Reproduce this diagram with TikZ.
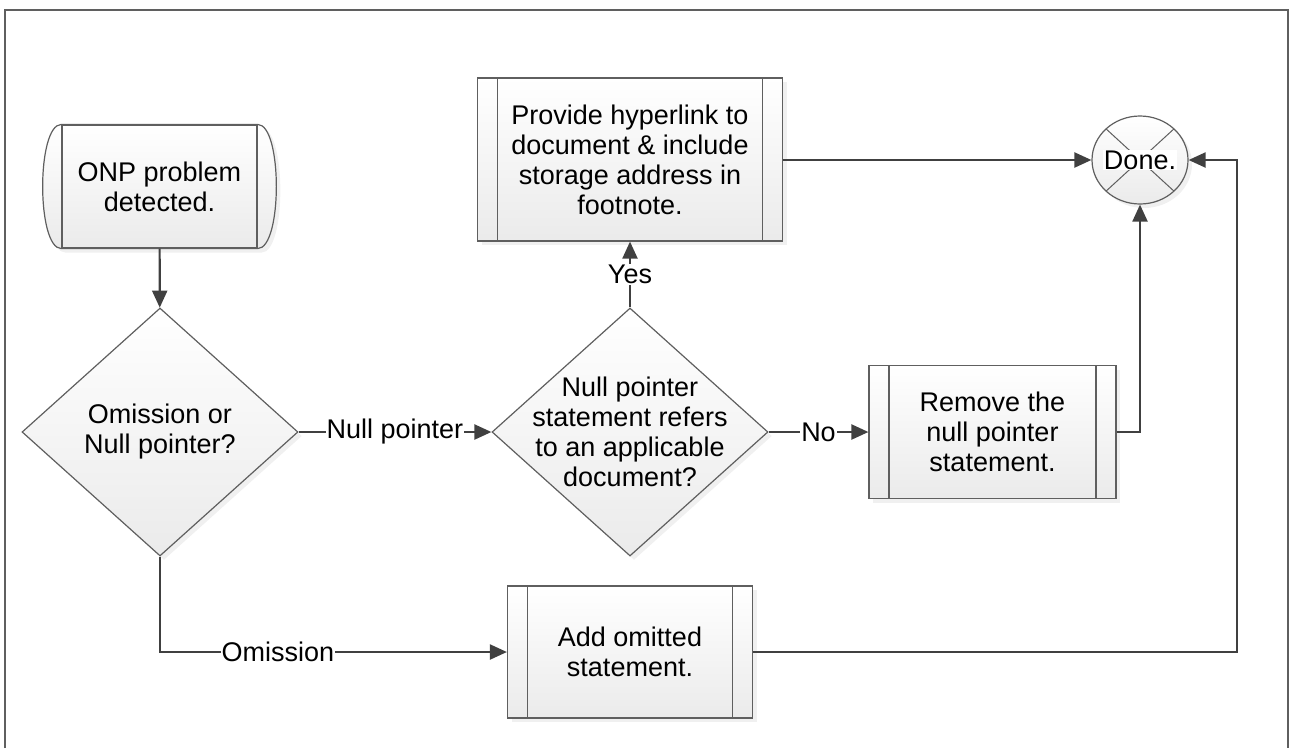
\documentclass[tikz,border=0pt]{standalone}
\usepackage{fontspec}
\setmainfont{Liberation Sans}
\usetikzlibrary{arrows.meta, shapes.geometric, shadows, backgrounds}
\definecolor{linegray}{HTML}{404040}
\definecolor{edgegray}{HTML}{5F5F5F}

\begin{document}
\begin{tikzpicture}[x=1pt, y=-1pt,
        every node/.style={font=\fontsize{27}{30}\selectfont, align=center},
        shapefill/.style={draw=edgegray, line width=1.2pt, top color=white, bottom color=black!8,
            drop shadow={shadow xshift=4pt, shadow yshift=-4pt, opacity=0.12}},
        process/.style={shapefill, rectangle, inner sep=0pt, path picture={
            \draw[edgegray, line width=1.2pt] ([xshift=20pt]path picture bounding box.north west) -- ([xshift=20pt]path picture bounding box.south west);
            \draw[edgegray, line width=1.2pt] ([xshift=-20pt]path picture bounding box.north east) -- ([xshift=-20pt]path picture bounding box.south east);
        }},
        decision/.style={shapefill, diamond, inner sep=0pt, minimum width=276pt, minimum height=248pt},
        flow/.style={draw=linegray, line width=2.2pt, -{Triangle[length=17pt, width=15pt]}},
        lbl/.style={fill=white, inner sep=1pt}
    ]
        \useasboundingbox (0,0) rectangle (1289,748);
        
        % Frame
        \draw[edgegray, line width=2pt] (5,748) -- (5,10) -- (1288,10) -- (1288,748);
        
        % Start
        \node[draw=edgegray, line width=1.2pt, minimum width=195pt, minimum height=123pt, inner sep=0pt] (start) at (159.5,186.5) {ONP problem\\detected.};
        \begin{scope}[on background layer]
            \path[shapefill] (start.north west) .. controls ([xshift=-25pt]start.north west) and ([xshift=-25pt]start.south west) .. (start.south west)
                -- (start.south east) .. controls ([xshift=25pt]start.south east) and ([xshift=25pt]start.north east) .. (start.north east) -- cycle;
        \end{scope}
        
        % Decisions
        \node[decision] (omit) at (160,432) {};
        \node (omittext) at (omit) {Omission or\\Null pointer?};
        \node[decision] (refers) at (630,432) {};
        \node (referstext) at (refers) {Null pointer\\statement refers\\to an applicable\\document?};
        
        % Processes
        \node[process, minimum width=305pt, minimum height=163pt] (link) at (630,159.5) {Provide hyperlink to\\document \& include\\storage address in\\footnote.};
        \node[process, minimum width=247pt, minimum height=133pt] (remove) at (992.5,432) {Remove the\\null pointer\\statement.};
        \node[process, minimum width=245pt, minimum height=132pt] (add) at (630,652) {Add omitted\\statement.};
        
        % End
        \node[shapefill, ellipse, minimum width=96pt, minimum height=88pt, inner sep=0pt, path picture={
            \draw[edgegray, line width=1pt] (path picture bounding box.south west) -- (path picture bounding box.north east)
                (path picture bounding box.north west) -- (path picture bounding box.south east);
        }] (done) at (1140,160) {};
        \node[lbl] (donetext) at (done) {Done.};
        
        % Arrows
        \coordinate (back) at (1237,652);
        \draw[flow] (start) -- (omit);
        \draw[flow] (omit) -- node[lbl] {Null pointer} (refers);
        \draw[flow] (refers) -- node[lbl] {No} (remove);
        \draw[flow] (refers.north) -- node[lbl] {Yes} (link.south);
        \draw[flow] (omit.south) |- node[lbl, pos=0.67] {Omission} (add.west);
        \draw[flow] (link.east |- done.west) -- (done.west);
        \draw[flow] (remove.east) -| (done.south);
        \draw[flow] (add.east) -- (back) |- (done.east);
        
    \end{tikzpicture}
\end{document}
